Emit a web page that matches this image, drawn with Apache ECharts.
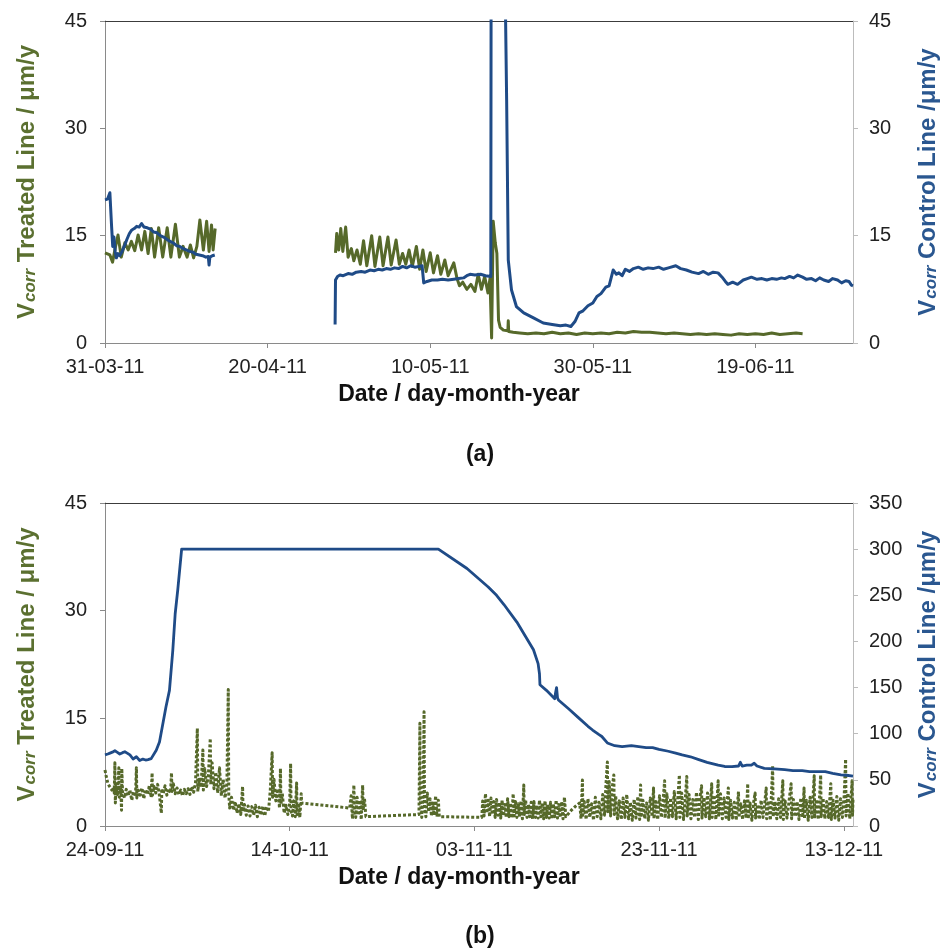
<!DOCTYPE html>
<html>
<head>
<meta charset="utf-8">
<script src="https://cdn.jsdelivr.net/npm/echarts@6/dist/echarts.min.js"></script>
<style>html,body{margin:0;padding:0;background:#fff}#c{width:948px;height:949px}</style>
</head>
<body>
<div id="c"></div>
<script>
// x values are day offsets from the first tick date of each panel
// panel (a): day 0 = 31-03-11 ; panel (b): day 0 = 24-09-11
const ticksA = ['31-03-11','20-04-11','10-05-11','30-05-11','19-06-11'];
const ticksB = ['24-09-11','14-10-11','03-11-11','23-11-11','13-12-11'];
const tickDays = [0,20,40,60,80];
const daysA = 92, daysB = 81;
const ticksLeft = [0,15,30,45];
const ticksRightA = [0,15,30,45];
const ticksRightB = [0,50,100,150,200,250,300,350];

// (a) Treated line, segment 1 and 2  [day, µm/y]
const treatedA1 = [[0,12.6],[0.6,12.3],[0.93,11.3],[1.3,13.5],[1.6,15.1],[2.0,12.0],[2.44,14.0],[2.85,13.0],[3.25,14.2],[3.66,12.9],[4.07,15.1],[4.5,13.0],[4.9,15.6],[5.3,12.5],[5.7,16.0],[6.1,12.0],[6.6,16.1],[7.1,12.0],[7.65,16.1],[8.1,12.0],[8.66,16.6],[9.15,12.0],[9.6,13.5],[10.1,12.0],[10.5,13.7],[10.9,11.9],[11.3,13.5],[11.67,17.2],[12.1,13.0],[12.5,17.0],[12.8,12.8],[13.1,16.5],[13.3,13.0],[13.55,16.0]];
const treatedA2 = [[28.35,12.6],[28.5,15.3],[28.75,13.0],[29.0,16.0],[29.25,12.8],[29.6,16.2],[29.9,12.0],[30.3,13.2],[30.6,11.5],[31.0,13.0],[31.4,11.0],[31.8,14.3],[32.2,10.8],[32.8,15.0],[33.2,10.7],[33.8,14.8],[34.2,10.8],[34.8,14.8],[35.2,10.9],[35.8,14.4],[36.2,11.0],[36.6,12.5],[37.0,11.0],[37.4,13.0],[37.8,10.7],[38.3,13.5],[38.7,10.3],[39.1,13.0],[39.5,10.0],[40.0,12.6],[40.4,9.8],[40.9,12.2],[41.3,9.6],[41.8,11.6],[42.2,9.4],[42.9,11.2],[43.3,9.0],[43.6,8.0],[44.0,8.5],[44.5,7.5],[45.0,8.2],[45.5,7.2],[45.9,9.6],[46.3,7.5],[46.7,9.3],[47.1,7.0],[47.35,9.0],[47.55,0.7],[47.75,17.0],[48.0,14.0],[48.2,12.5],[48.4,3.2],[48.6,2.2],[49.0,1.8],[49.55,1.7],[49.6,3.1],[49.65,1.6],[50.2,1.5],[51,1.4],[52,1.3],[53,1.4],[54,1.3],[55,1.5],[56,1.3],[57,1.4],[58,1.2],[59,1.4],[60,1.3],[61,1.4],[62,1.3],[63,1.5],[64,1.4],[65,1.6],[66,1.5],[67,1.5],[68,1.4],[69,1.3],[70,1.4],[71,1.3],[72,1.2],[73,1.3],[74,1.2],[75,1.3],[76,1.2],[77,1.1],[78,1.3],[79,1.2],[80,1.3],[81,1.2],[82,1.4],[83,1.2],[84,1.3],[85,1.4],[85.8,1.3]];

// (a) Control line, segment 1 and 2
const controlA1 = [[0,20.0],[0.3,20.1],[0.6,21.0],[0.8,16.5],[0.95,13.5],[1.1,14.8],[1.25,12.8],[1.4,11.9],[1.6,12.5],[1.8,12.2],[2.1,12.8],[2.4,13.6],[2.7,14.5],[3.0,15.3],[3.3,15.8],[3.6,16.0],[3.9,16.3],[4.2,16.2],[4.5,16.7],[4.8,16.2],[5.2,16.1],[5.6,15.9],[6.0,15.5],[6.4,15.4],[6.8,15.0],[7.2,14.8],[7.6,14.5],[8.0,14.2],[8.4,14.0],[8.8,13.6],[9.2,13.5],[9.6,13.2],[10.0,13.0],[10.4,12.8],[10.8,12.7],[11.2,12.4],[11.6,12.3],[12.0,12.2],[12.4,12.0],[12.7,12.1],[12.8,10.9],[12.9,12.0],[13.2,12.2],[13.5,12.3]];
const controlA2 = [[28.3,2.6],[28.35,8.8],[28.6,9.3],[28.9,9.5],[29.3,9.4],[29.9,9.7],[30.4,9.6],[30.9,9.9],[31.5,10.0],[32.0,9.9],[32.6,10.2],[33.1,10.1],[33.6,10.3],[34.1,10.2],[34.6,10.4],[35.1,10.3],[35.6,10.5],[36.1,10.4],[36.6,10.7],[37.1,10.5],[37.6,10.8],[38.1,10.6],[38.6,10.7],[39.0,10.8],[39.2,8.4],[39.6,8.6],[40.2,8.8],[40.9,8.8],[41.5,8.9],[42.2,8.8],[42.9,8.9],[43.5,9.0],[44.1,9.1],[44.5,9.4],[44.9,9.6],[45.5,9.5],[46.2,9.6],[46.8,9.4],[47.45,9.3],[47.5,60],[49.1,60],[49.4,34],[49.6,11.6],[50.0,7.4],[50.6,5.1],[51.5,4.2],[52.7,3.5],[53.9,2.8],[55.0,2.6],[56.0,2.4],[56.7,2.5],[57.3,2.3],[57.8,3.0],[58.3,4.2],[58.8,4.5],[59.4,5.2],[60.0,5.6],[60.5,6.5],[61.0,6.9],[61.6,7.8],[62.0,8.0],[62.5,10.2],[62.9,9.6],[63.2,9.8],[63.6,9.4],[64.0,10.3],[64.5,10.0],[65.0,10.4],[65.6,10.6],[66.2,10.3],[66.8,10.5],[67.4,10.4],[68.1,10.6],[68.7,10.3],[69.3,10.5],[70.2,10.8],[70.8,10.4],[71.5,10.2],[72.2,9.9],[73.0,9.7],[73.6,10.0],[74.2,9.6],[74.8,9.9],[75.4,9.8],[75.9,9.2],[76.3,8.6],[76.6,8.2],[77.2,8.5],[77.8,8.2],[78.5,8.8],[79.0,9.0],[79.5,9.2],[80.2,8.9],[80.8,9.0],[81.4,8.8],[82.0,9.0],[82.6,8.9],[83.2,9.1],[83.6,9.0],[84.2,9.3],[84.7,9.1],[85.2,9.5],[85.8,9.2],[86.3,8.9],[86.9,9.0],[87.4,8.7],[87.9,9.1],[88.4,8.8],[89.0,8.6],[89.5,9.0],[90.1,8.8],[90.6,8.4],[91.1,8.7],[91.5,8.6],[91.8,8.1],[92.0,8.0]];

// (b) Treated line (left axis)
const treatedB = [[0,7.8],[0.15,6.8],[0.3,6.0],[0.45,5.6],[0.6,5.3],[0.75,5.0],[0.9,5.4],[1.0,4.6],[1.07,8.8],[1.12,3.2],[1.2,5.5],[1.35,4.4],[1.5,8.1],[1.55,4.0],[1.7,5.2],[1.79,2.2],[1.82,8.0],[1.9,4.8],[2.1,3.9],[2.3,5.1],[2.5,4.2],[2.7,5.0],[2.9,3.6],[3.1,4.8],[3.3,4.1],[3.4,8.1],[3.45,3.9],[3.6,5.0],[3.8,4.3],[4.0,5.3],[4.2,3.8],[4.4,5.1],[4.6,4.4],[4.8,5.6],[5.0,4.0],[5.1,7.4],[5.15,4.3],[5.3,5.5],[5.5,4.6],[5.7,5.8],[5.9,4.2],[6.1,1.8],[6.15,5.2],[6.3,4.5],[6.5,5.6],[6.7,4.3],[6.9,5.2],[7.1,4.6],[7.2,7.4],[7.25,4.8],[7.4,5.9],[7.6,4.5],[7.8,5.3],[8.0,4.4],[8.2,5.0],[8.4,4.2],[8.6,5.1],[8.8,4.5],[9.0,5.2],[9.2,4.4],[9.4,5.5],[9.6,4.7],[9.8,6.0],[10.0,13.6],[10.05,4.8],[10.2,6.5],[10.4,5.4],[10.6,10.6],[10.65,5.0],[10.8,8.0],[11.0,5.5],[11.2,7.2],[11.4,12.2],[11.45,5.8],[11.6,8.8],[11.8,5.2],[12.0,7.5],[12.2,4.6],[12.4,8.1],[12.6,4.2],[12.8,6.5],[13.0,3.9],[13.2,5.8],[13.35,19.0],[13.4,4.5],[13.5,2.5],[13.7,4.0],[13.9,2.2],[14.1,3.4],[14.3,1.8],[14.5,3.1],[14.7,1.6],[14.9,5.5],[14.95,2.0],[15.1,3.0],[15.3,1.5],[15.5,2.8],[15.7,1.4],[15.9,2.7],[16.1,1.5],[16.3,2.9],[16.5,1.3],[16.7,2.6],[16.9,1.5],[17.1,2.8],[17.3,1.4],[17.5,2.7],[17.7,2.0],[17.9,5.0],[18.1,10.2],[18.15,4.0],[18.3,6.5],[18.5,3.5],[18.7,5.2],[18.9,2.5],[19.0,8.0],[19.05,3.0],[19.2,4.5],[19.4,1.8],[19.6,2.9],[19.8,1.6],[20.0,3.2],[20.1,8.7],[20.15,2.0],[20.3,1.4],[20.45,3.5],[20.6,1.3],[20.75,6.0],[20.8,1.6],[20.95,3.2],[21.1,1.2],[21.25,4.5],[21.3,3.2],
[26.5,2.5],[26.65,4.2],[26.8,1.0],[26.95,5.7],[27.0,2.8],[27.15,1.2],[27.3,4.0],[27.45,1.5],[27.6,3.6],[27.75,0.9],[27.9,5.7],[27.95,2.2],[28.1,3.8],[28.25,1.3],
[34.0,1.6],[34.1,14.3],[34.15,3.5],[34.3,1.2],[34.45,4.0],[34.55,15.9],[34.6,2.5],[34.75,1.3],[34.9,4.6],[35.05,2.0],[35.2,3.8],[35.35,1.4],[35.5,3.2],[35.65,1.5],[35.8,4.2],[35.95,1.3],[36.1,3.6],[36.2,1.3],
[40.8,1.2],[40.9,3.5],[41.05,1.4],[41.2,4.5],[41.35,1.8],[41.5,3.6],[41.65,1.3],[41.8,3.9],[41.95,1.6],[42.1,3.4],[42.25,1.2],[42.4,3.7],[42.55,1.5],[42.7,3.3],[42.85,1.1],[43.0,3.6],[43.15,1.4],[43.3,3.0],[43.45,1.2],[43.6,3.8],[43.75,1.3],[43.9,3.2],[44.05,1.1],[44.2,4.5],[44.3,1.4],[44.45,3.4],[44.6,1.2],[44.75,3.1],[44.9,1.3],[45.05,3.5],[45.2,1.0],[45.35,5.7],[45.4,1.6],[45.55,3.6],[45.7,1.2],[45.85,3.0],[46.0,1.3],[46.15,3.3],[46.3,1.0],[46.45,3.4],[46.6,1.2],[46.75,2.9],[46.9,1.1],[47.05,3.6],[47.2,1.3],[47.35,3.2],[47.5,1.0],[47.65,3.5],[47.8,1.2],[47.95,3.0],[48.1,1.1],[48.25,3.3],[48.4,1.0],[48.55,3.1],[48.7,1.3],[48.85,3.6],[49.0,1.1],[49.15,3.0],[49.3,1.2],[49.45,3.4],[49.6,1.0],[49.75,4.0],[49.9,1.3],[50.0,1.4],
[50.5,2.2],[51.0,2.8],[51.4,3.2],[51.55,1.0],[51.7,6.4],[51.75,1.5],[51.9,3.4],[52.1,0.9],[52.3,3.8],[52.5,1.2],[52.7,3.1],[52.9,0.8],[53.1,4.0],[53.3,1.3],[53.5,3.3],[53.7,1.0],[53.9,4.4],[54.1,1.5],[54.25,5.8],[54.4,8.9],[54.45,2.0],[54.6,6.2],[54.75,1.4],[54.9,5.0],[55.1,7.1],[55.15,1.6],[55.3,4.2],[55.5,1.0],[55.7,3.5],[55.9,0.9],[56.1,3.9],[56.3,1.2],[56.5,4.4],[56.7,1.0],[56.9,3.3],[57.1,0.8],[57.3,3.7],[57.5,1.1],[57.7,4.1],[57.9,0.9],[58.0,5.7],[58.05,1.2],[58.25,3.6],[58.45,1.0],[58.65,3.2],[58.85,0.8],[59.05,3.9],[59.25,1.3],[59.4,5.3],[59.45,1.0],[59.65,3.4],[59.85,0.9],[60.05,4.2],[60.25,1.2],[60.45,3.8],[60.6,6.3],[60.65,1.1],[60.85,4.5],[61.05,1.0],[61.25,3.9],[61.45,1.3],[61.65,4.8],[61.85,1.0],[62.05,4.1],[62.2,7.1],[62.25,1.2],[62.45,4.6],[62.65,0.9],[62.85,4.0],[63.0,6.9],[63.05,1.4],[63.25,4.4],[63.45,1.0],[63.65,3.7],[63.85,1.2],[64.05,4.7],[64.25,0.9],[64.45,4.2],[64.6,5.6],[64.65,1.1],[64.85,4.0],[65.05,1.3],[65.25,4.6],[65.45,1.0],[65.7,5.9],[65.75,1.2],[65.95,4.3],[66.15,0.9],[66.4,6.3],[66.45,1.3],[66.65,4.5],[66.85,1.0],[67.05,3.9],[67.25,1.2],[67.5,5.3],[67.55,0.9],[67.75,3.6],[67.95,1.1],[68.15,3.3],[68.35,0.8],[68.6,4.8],[68.65,1.2],[68.85,3.1],[69.05,0.9],[69.25,3.5],[69.45,1.1],[69.6,5.9],[69.65,1.0],[69.85,3.2],[70.05,0.8],[70.25,3.4],[70.4,4.6],[70.45,1.1],[70.65,3.0],[70.85,0.9],[71.05,3.6],[71.25,1.2],[71.45,3.3],[71.6,5.3],[71.65,1.0],[71.85,3.5],[72.05,0.8],[72.3,8.4],[72.35,1.3],[72.55,3.4],[72.75,1.0],[72.95,3.8],[73.15,1.2],[73.4,6.3],[73.45,0.9],[73.65,3.5],[73.85,1.1],[74.05,3.2],[74.3,5.9],[74.35,1.0],[74.55,3.7],[74.75,1.3],[74.95,3.4],[75.15,0.9],[75.35,3.9],[75.55,1.2],[75.7,5.3],[75.75,1.0],[75.95,3.6],[76.15,0.8],[76.35,4.0],[76.55,1.2],[76.8,7.0],[76.85,1.1],[77.05,3.7],[77.25,0.9],[77.5,7.1],[77.55,1.3],[77.75,3.9],[77.95,1.0],[78.15,3.4],[78.35,1.2],[78.6,5.9],[78.65,0.9],[78.85,3.6],[79.05,1.1],[79.25,4.1],[79.45,0.8],[79.65,3.8],[79.85,1.2],[80.05,4.3],[80.2,9.3],[80.25,1.4],[80.45,4.6],[80.65,1.0],[80.9,6.3],[80.95,1.5],[81.0,3.8]];

// (b) Control line (right axis)
const controlB = [[0,77],[0.3,78],[0.54,79],[0.8,80],[1.07,81.5],[1.3,80],[1.6,78],[1.9,79.5],[2.15,80.5],[2.4,79],[2.7,77],[3.04,72.6],[3.2,74],[3.4,75],[3.6,73],[3.76,71],[4.1,72.5],[4.4,71.5],[4.66,72],[5.0,73],[5.2,75],[5.55,82],[5.9,91],[6.27,111],[6.6,129],[6.98,147],[7.34,190],[7.6,230],[7.88,256],[8.3,300],[36.1,300],[39.2,279],[41.5,259],[42.4,250],[43.2,240],[43.4,242],[44.6,221],[46.4,191],[46.9,176],[47.05,165],[47.1,153],[47.8,147],[48.7,138],[48.8,145],[48.9,150],[49.0,139],[49.1,136.5],[50.2,127],[51.2,118],[52.3,108],[52.8,104],[53.5,99],[53.8,97],[54.4,90],[55.2,87],[56.0,86],[57.0,87],[57.8,86],[58.6,85],[59.3,85],[60.0,83],[61.0,81],[61.8,79],[62.5,77],[63.4,75],[64.3,72],[65.2,69],[66.4,66],[67.1,64.5],[67.9,64.3],[68.6,65],[68.8,69],[69.0,65],[69.5,66],[70.0,66],[70.3,68],[70.6,65],[71.4,62.5],[72.5,62],[73.6,61],[74.5,60],[75.5,60],[76.3,59],[77.2,58.9],[78.0,59],[78.8,57],[79.7,55.3],[80.3,55],[81,54]];

const GREEN = '#56692a', BLUE = '#1f4b87';
const GREEN_T = '#5b7030', BLUE_T = '#2a5790';
const FONT = 'Liberation Sans, Arial, sans-serif';

const chart = echarts.init(document.getElementById('c'), null, {renderer: 'canvas'});

function xAxisFor(grid, max, labels) {
  return {
    type: 'value', gridIndex: grid, min: 0, max: max, position: 'bottom',
    axisLine: {show: true, onZero: false, lineStyle: {color: '#8a8a8a', width: 1}},
    axisTick: {show: true, length: 5, customValues: tickDays, lineStyle: {color: '#8a8a8a'}},
    axisLabel: {customValues: tickDays, margin: 14, fontSize: 20, fontFamily: FONT, color: '#222',
      formatter: v => labels[tickDays.indexOf(v)] || ''},
    splitLine: {show: false},
    name: 'Date / day-month-year', nameLocation: 'middle', nameGap: 40,
    nameTextStyle: {fontSize: 23, fontWeight: 'bold', fontFamily: FONT, color: '#111', padding: [0, 40, 0, 0]}
  };
}
function topLine(grid) {
  return {type: 'value', gridIndex: grid, position: 'top', min: 0, max: 1,
    axisLine: {show: true, onZero: false, lineStyle: {color: '#3c3c3c', width: 1}}, axisTick: {show: false},
    axisLabel: {show: false}, splitLine: {show: false}};
}
function richName(color) {
  return {
    color: color, fontFamily: FONT,
    rich: {
      v: {fontSize: 24, fontWeight: 'bold', color: color, fontFamily: FONT},
      s: {fontSize: 17, fontStyle: 'italic', fontWeight: 'bold', color: color, fontFamily: FONT, verticalAlign: 'bottom', padding: [0, 0, 0, 1]},
      t: {fontSize: 24, fontWeight: 'bold', color: color, fontFamily: FONT}
    }
  };
}
function yAxisFor(grid, pos, max, interval, ticks, name, color, gap) {
  const lc = pos === 'left' ? '#8a8a8a' : '#bcbcbc';
  return {
    type: 'value', gridIndex: grid, position: pos, min: 0, max: max, interval: interval,
    axisLine: {show: true, onZero: false, lineStyle: {color: lc, width: 1}},
    axisTick: {show: true, length: 5, customValues: ticks, lineStyle: {color: lc}},
    axisLabel: {customValues: ticks, fontSize: 20, fontFamily: FONT, color: '#222', margin: pos === 'left' ? 18 : 16},
    splitLine: {show: false},
    name: name, nameLocation: 'middle', nameRotate: 90, nameGap: gap,
    nameTextStyle: richName(color)
  };
}
const nameT = '{v|V}{s|corr}{t| Treated Line / μm/y}';
const nameC = '{v|V}{s|corr}{t| Control Line /μm/y}';

function line(name, data, x, y, color, width, dotted) {
  return {
    name: name, type: 'line', xAxisIndex: x, yAxisIndex: y, data: data,
    showSymbol: false, symbol: 'none', smooth: false, clip: true, animation: false,
    lineStyle: {color: color, width: width, type: dotted ? [3, 2] : 'solid', cap: 'butt', join: 'round'},
    itemStyle: {color: color}
  };
}

chart.setOption({
  backgroundColor: '#fff',
  animation: false,
  grid: [
    {left: 105, top: 21, width: 754, height: 322, containLabel: false},
    {left: 105, top: 503, width: 754, height: 323, containLabel: false}
  ],
  title: [
    {text: '(a)', left: 475, top: 438, textAlign: 'center', textStyle: {fontSize: 23, fontWeight: 'bold', fontFamily: FONT, color: '#111'}},
    {text: '(b)', left: 475, top: 920, textAlign: 'center', textStyle: {fontSize: 23, fontWeight: 'bold', fontFamily: FONT, color: '#111'}}
  ],
  xAxis: [xAxisFor(0, daysA, ticksA), topLine(0), xAxisFor(1, daysB, ticksB), topLine(1)],
  yAxis: [
    yAxisFor(0, 'left', 45, 15, ticksLeft, nameT, GREEN_T, 66),
    yAxisFor(0, 'right', 45, 15, ticksRightA, nameC, BLUE_T, 63),
    yAxisFor(1, 'left', 45, 15, ticksLeft, nameT, GREEN_T, 66),
    yAxisFor(1, 'right', 350, 50, ticksRightB, nameC, BLUE_T, 63)
  ],
  series: [
    line('Treated Line (a)', treatedA1, 0, 0, GREEN, 3, false),
    line('Treated Line (a)', treatedA2, 0, 0, GREEN, 3, false),
    line('Control Line (a)', controlA1, 0, 1, BLUE, 3, false),
    line('Control Line (a)', controlA2, 0, 1, BLUE, 3, false),
    line('Treated Line (b)', treatedB, 2, 2, GREEN, 3, true),
    line('Control Line (b)', controlB, 2, 3, BLUE, 2.8, false)
  ]
});
</script>
</body>
</html>
